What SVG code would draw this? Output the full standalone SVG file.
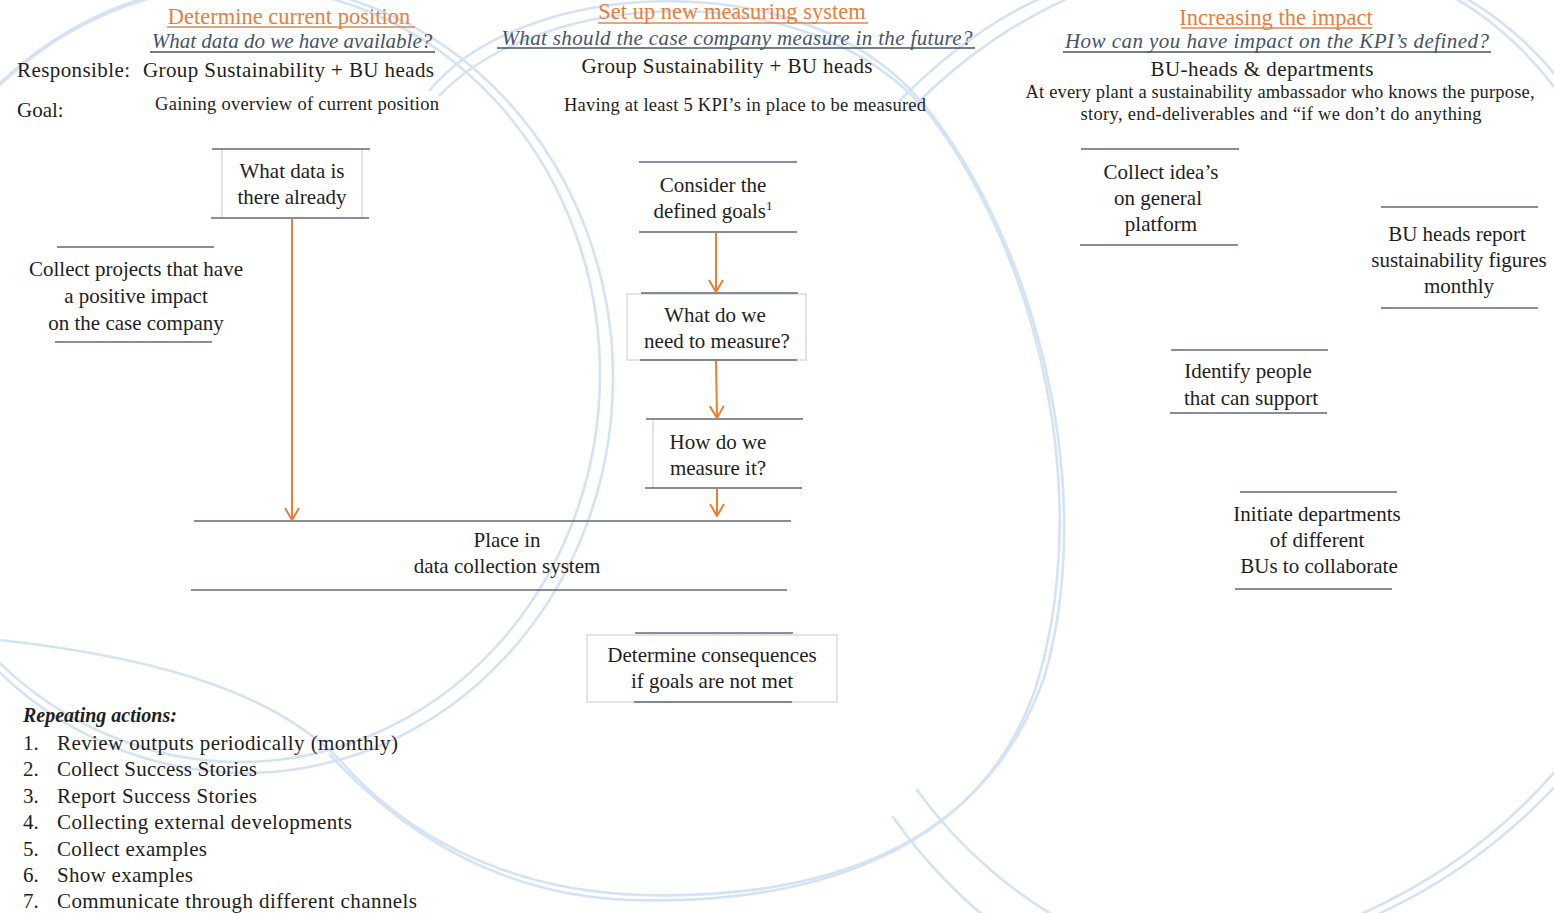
<svg xmlns="http://www.w3.org/2000/svg" width="1554" height="913" viewBox="0 0 1554 913">
  <defs>
    <style>
      .t { font-family: "Liberation Serif", "DejaVu Serif", serif; fill: #1e1e1e; }
      .c { text-anchor: middle; }
      .n { font-size: 21px; }
      .hd { fill: #E57F3E; font-size: 22.5px; }
      .q { fill: #44546A; font-size: 21px; font-style: italic; }
      .sm { font-size: 18.5px; }
      .ul-o { stroke: #D98A55; stroke-width: 1.5; }
      .ul-q { stroke: #44546A; stroke-width: 1.5; }
      .ln { stroke: #5d6878; stroke-width: 1.4; }
      .side { stroke: #cfd2d6; stroke-width: 1.2; fill: none; }
      .edge { stroke: #ED7D31; stroke-width: 2; fill: none; }
      .bg { fill: none; stroke: #d4e3f3; stroke-width: 2.6; stroke-linecap: round; }
    </style>
    <marker id="arr" viewBox="0 0 14 16" refX="13" refY="8" markerWidth="14" markerHeight="16" markerUnits="userSpaceOnUse" orient="auto">
      <path d="M1,1 L13,8 L1,15" fill="none" stroke="#ED7D31" stroke-width="2"/>
    </marker>
  </defs>

  <rect width="1554" height="913" fill="#ffffff"/>

  <!-- sketched background rings -->
  <g id="rings">
    <ellipse class="bg" cx="245" cy="378" rx="368" ry="395"/>
    <ellipse class="bg" cx="240" cy="374" rx="360" ry="388"/>
    <path class="bg" d="M430,90 C520,-20 800,-40 920,100 C1030,230 1100,480 1045,675 C985,850 820,900 640,895 C500,890 400,830 340,760 C280,700 180,660 0,640"/>
    <path class="bg" d="M440,95 C540,-10 810,-30 930,115 C1040,260 1095,500 1035,690 C975,860 800,905 630,900 C490,895 395,825 330,755"/>
    <path class="bg" d="M900,100 C960,40 1010,10 1060,-10"/>
    <path class="bg" d="M910,110 C970,50 1020,20 1075,-5"/>
    <path class="bg" d="M1440,-10 C1500,20 1545,70 1570,110"/>
    <path class="bg" d="M1455,-8 C1510,22 1548,62 1570,95"/>
    <path class="bg" d="M1570,770 C1500,850 1420,900 1340,930"/>
    <path class="bg" d="M1565,760 C1490,850 1410,895 1325,930"/>
    <path class="bg" d="M917,790 C960,850 1020,900 1080,930"/>
    <path class="bg" d="M893,817 C930,870 970,905 1000,930"/>
  </g>

  <!-- column headers -->
  <g id="header-current">
    <text class="t c hd" x="289" y="24">Determine current position</text>
    <line class="ul-o" x1="167" y1="27" x2="415" y2="27"/>
    <text class="t c q" x="292" y="48">What data do we have available?</text>
    <line class="ul-q" x1="150" y1="52" x2="435" y2="52"/>
    <text class="t n" x="17" y="77" font-size="22" textLength="113">Responsible:</text>
    <text class="t n" x="143" y="77" font-size="22" textLength="291">Group Sustainability + BU heads</text>
    <text class="t" x="17" y="117" font-size="21">Goal:</text>
    <text class="t sm" x="155" y="110" textLength="284">Gaining overview of current position</text>
  </g>

  <g id="header-measuring">
    <text class="t c hd" x="732" y="19">Set up new measuring system</text>
    <line class="ul-o" x1="598" y1="23" x2="868" y2="23"/>
    <text class="t c q" x="737" y="45" textLength="471">What should the case company measure in the future?</text>
    <line class="ul-q" x1="497" y1="48" x2="975" y2="48"/>
    <text class="t c n" x="727" y="73" font-size="22" textLength="291">Group Sustainability + BU heads</text>
    <text class="t c sm" x="745" y="111" textLength="362">Having at least 5 KPI’s in place to be measured</text>
  </g>

  <g id="header-impact">
    <text class="t c hd" x="1276" y="25">Increasing the impact</text>
    <line class="ul-o" x1="1181" y1="28" x2="1372" y2="28"/>
    <text class="t c q" x="1277" y="48" textLength="424">How can you have impact on the KPI’s defined?</text>
    <line class="ul-q" x1="1063" y1="52" x2="1491" y2="52"/>
    <text class="t c n" x="1262" y="76" font-size="22" textLength="223">BU-heads &amp; departments</text>
    <text class="t c sm" x="1280" y="98" textLength="509">At every plant a sustainability ambassador who knows the purpose,</text>
    <text class="t c sm" x="1281" y="120" textLength="401">story, end-deliverables and “if we don’t do anything</text>
  </g>

  <!-- process steps -->
  <g id="node-data-there">
    <line class="side" x1="222" y1="149" x2="222" y2="218"/>
    <line class="side" x1="362" y1="149" x2="362" y2="218"/>
    <line class="ln" x1="212" y1="149" x2="370" y2="149"/>
    <line class="ln" x1="211" y1="218" x2="369" y2="218"/>
    <text class="t c n" x="292" y="178">What data is</text>
    <text class="t c n" x="292" y="204">there already</text>
  </g>

  <g id="node-collect-projects">
    <line class="ln" x1="57" y1="247" x2="214" y2="247"/>
    <line class="ln" x1="55" y1="342" x2="212" y2="342"/>
    <text class="t c n" x="136" y="276">Collect projects that have</text>
    <text class="t c n" x="136" y="303">a positive impact</text>
    <text class="t c n" x="136" y="330">on the case company</text>
  </g>

  <g id="node-consider-goals">
    <line class="ln" x1="639" y1="162" x2="797" y2="162"/>
    <line class="ln" x1="639" y1="232" x2="797" y2="232"/>
    <text class="t c n" x="713" y="192">Consider the</text>
    <text class="t c n" x="713" y="218">defined goals<tspan font-size="13" dy="-8">1</tspan></text>
  </g>

  <g id="node-what-measure">
    <rect class="side" x="627" y="294" width="179" height="66"/>
    <line class="ln" x1="641" y1="293" x2="798" y2="293"/>
    <line class="ln" x1="640" y1="360" x2="797" y2="360"/>
    <text class="t c n" x="715" y="322">What do we</text>
    <text class="t c n" x="717" y="348">need to measure?</text>
  </g>

  <g id="node-how-measure">
    <line class="side" x1="653" y1="419" x2="653" y2="488"/>
    <line class="ln" x1="646" y1="419" x2="803" y2="419"/>
    <line class="ln" x1="645" y1="488" x2="802" y2="488"/>
    <text class="t c n" x="718" y="449">How do we</text>
    <text class="t c n" x="718" y="475">measure it?</text>
  </g>

  <g id="node-data-collection">
    <line class="ln" x1="194" y1="521" x2="791" y2="521"/>
    <line class="ln" x1="191" y1="590" x2="787" y2="590"/>
    <text class="t c n" x="507" y="547">Place in</text>
    <text class="t c n" x="507" y="573">data collection system</text>
  </g>

  <g id="node-consequences">
    <rect class="side" x="587" y="635" width="250" height="67"/>
    <line class="ln" x1="635" y1="633" x2="793" y2="633"/>
    <line class="ln" x1="634" y1="702" x2="792" y2="702"/>
    <text class="t c n" x="712" y="662">Determine consequences</text>
    <text class="t c n" x="712" y="688">if goals are not met</text>
  </g>

  <g id="node-collect-ideas">
    <line class="ln" x1="1081" y1="149" x2="1239" y2="149"/>
    <line class="ln" x1="1080" y1="245" x2="1238" y2="245"/>
    <text class="t c n" x="1161" y="179">Collect idea’s</text>
    <text class="t c n" x="1158" y="205">on general</text>
    <text class="t c n" x="1161" y="231">platform</text>
  </g>

  <g id="node-bu-report">
    <line class="ln" x1="1381" y1="207" x2="1538" y2="207"/>
    <line class="ln" x1="1381" y1="308" x2="1538" y2="308"/>
    <text class="t c n" x="1457" y="241">BU heads report</text>
    <text class="t c n" x="1459" y="267">sustainability figures</text>
    <text class="t c n" x="1459" y="293">monthly</text>
  </g>

  <g id="node-identify-people">
    <line class="ln" x1="1171" y1="350" x2="1328" y2="350"/>
    <line class="ln" x1="1170" y1="413" x2="1327" y2="413"/>
    <text class="t c n" x="1248" y="378">Identify people</text>
    <text class="t c n" x="1251" y="405">that can support</text>
  </g>

  <g id="node-initiate">
    <line class="ln" x1="1240" y1="492" x2="1397" y2="492"/>
    <line class="ln" x1="1235" y1="589" x2="1392" y2="589"/>
    <text class="t c n" x="1317" y="521">Initiate departments</text>
    <text class="t c n" x="1317" y="547">of different</text>
    <text class="t c n" x="1319" y="573">BUs to collaborate</text>
  </g>

  <!-- connectors -->
  <g id="connectors">
    <line class="edge" x1="292" y1="219" x2="292" y2="520" marker-end="url(#arr)"/>
    <line class="edge" x1="716" y1="233" x2="716" y2="292" marker-end="url(#arr)"/>
    <line class="edge" x1="716" y1="361" x2="717" y2="418" marker-end="url(#arr)"/>
    <line class="edge" x1="717" y1="489" x2="717" y2="516" marker-end="url(#arr)"/>
  </g>

  <!-- recurring actions list -->
  <g id="repeating-actions">
    <text class="t" x="23" y="722" font-size="20" font-weight="bold" font-style="italic">Repeating actions:</text>
    <g class="t n">
      <text x="23" y="750">1.</text><text x="57" y="750" textLength="341">Review outputs periodically (monthly)</text>
      <text x="23" y="776">2.</text><text x="57" y="776" textLength="200">Collect Success Stories</text>
      <text x="23" y="803">3.</text><text x="57" y="803" textLength="200">Report Success Stories</text>
      <text x="23" y="829">4.</text><text x="57" y="829" textLength="295">Collecting external developments</text>
      <text x="23" y="856">5.</text><text x="57" y="856" textLength="150">Collect examples</text>
      <text x="23" y="882">6.</text><text x="57" y="882" textLength="136">Show examples</text>
      <text x="23" y="908">7.</text><text x="57" y="908" textLength="360">Communicate through different channels</text>
    </g>
  </g>
</svg>
